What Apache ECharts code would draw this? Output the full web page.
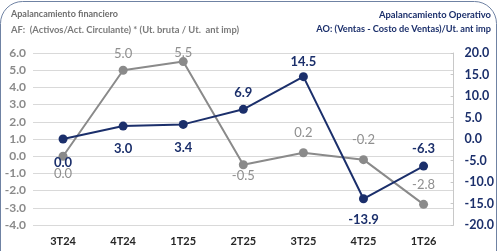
<!DOCTYPE html>
<html><head><meta charset="utf-8">
<script src="https://cdn.jsdelivr.net/npm/echarts@6/dist/echarts.min.js"></script>
<style>html,body{margin:0;padding:0;background:#fff}#c{width:497px;height:251px}</style>
</head><body><div id="c"></div>
<script>
const categories = ['3T24','4T24','1T25','2T25','3T25','4T25','1T26'];
const afValues = [0.0, 5.0, 5.5, -0.5, 0.2, -0.2, -2.8];
const aoValues = [0.0, 3.0, 3.4, 6.9, 14.5, -13.9, -6.3];
const leftTicks = {min: -4, max: 6, interval: 1};
const rightTicks = {min: -20, max: 20, interval: 5};

const NAVY = '#1b2f6b', GRAY = '#8a8a8a';
const afLabelPos = ['bottom','top','top','bottom','top','top','top'];
const afLabelDist = [7, 5, -2, 0, 9, 9, 9];
const aoLabelPos = ['bottom','bottom','bottom','top','top','bottom','top'];
const aoLabelDist = [13, 12, 12, 6, 4, 10, 6];

const chart = echarts.init(document.getElementById('c'), null, {renderer: 'canvas'});
const FONT = 'Lato';
chart.setOption({
  animation: false,
  textStyle: {fontFamily: FONT},
  grid: {left: 33, right: 35, top: 53, bottom: 26, containLabel: false},
  graphic: [
    {type: 'rect', shape: {x: 0.5, y: 1.5, width: 496, height: 320, r: 22}, style: {fill: 'none', stroke: '#6f82a3', lineWidth: 1}, silent: true},
    {type: 'text', left: 11, top: 10, style: {text: 'Apalancamiento financiero', font: 'bold 9px Lato', fill: '#6e6e6e'}},
    {type: 'text', left: 11, top: 25, style: {text: 'AF:  (Activos/Act. Circulante) * (Ut. bruta / Ut.  ant imp)', font: 'bold 9.4px Lato', fill: '#7a7a7a'}},
    {type: 'text', right: 6, top: 10, style: {text: 'Apalancamiento Operativo', font: 'bold 9.4px Lato', fill: NAVY, align: 'right'}},
    {type: 'text', right: 6, top: 25, style: {text: 'AO: (Ventas - Costo de Ventas)/Ut. ant imp', font: 'bold 9.2px Lato', fill: NAVY, align: 'right'}}
  ],
  xAxis: {
    type: 'category', data: categories, boundaryGap: true,
    axisLine: {show: false}, axisTick: {show: false},
    axisLabel: {color: '#262626', fontWeight: 'bold', fontSize: 11, margin: 11, fontFamily: FONT}
  },
  yAxis: [
    {
      type: 'value', position: 'left', min: leftTicks.min, max: leftTicks.max, interval: leftTicks.interval,
      axisLine: {show: false}, axisTick: {show: false},
      splitLine: {show: true, lineStyle: {color: '#d9d9d9', width: 1}},
      axisLabel: {color: '#8a8a8a', fontWeight: 'bold', fontSize: 12, margin: 7, fontFamily: FONT, formatter: v => v.toFixed(1)}
    },
    {
      type: 'value', position: 'right', min: rightTicks.min, max: rightTicks.max, interval: rightTicks.interval,
      axisLine: {show: true, lineStyle: {color: '#c8c8c8'}},
      axisTick: {show: true, inside: true, length: 3, lineStyle: {color: '#c8c8c8'}},
      splitLine: {show: false},
      axisLabel: {color: NAVY, fontWeight: 'bold', fontSize: 12.5, margin: 11, fontFamily: FONT, formatter: v => v.toFixed(1)}
    }
  ],
  series: [
    {
      name: 'AF', type: 'line', yAxisIndex: 0,
      data: afValues.map((v, i) => ({value: v, label: {position: afLabelPos[i], distance: afLabelDist[i]}})),
      symbol: 'circle', symbolSize: 9,
      lineStyle: {color: GRAY, width: 2}, itemStyle: {color: GRAY},
      label: {show: true, color: '#8f8f8f', fontSize: 13, fontFamily: FONT, formatter: p => p.value.toFixed(1)},
      z: 2
    },
    {
      name: 'AO', type: 'line', yAxisIndex: 1,
      data: aoValues.map((v, i) => ({value: v, label: {position: aoLabelPos[i], distance: aoLabelDist[i]}})),
      symbol: 'circle', symbolSize: 9,
      lineStyle: {color: NAVY, width: 2}, itemStyle: {color: NAVY},
      label: {show: true, color: NAVY, fontWeight: 'bold', fontSize: 13, fontFamily: FONT, formatter: p => p.value.toFixed(1)},
      z: 3
    }
  ]
});
</script></body></html>
